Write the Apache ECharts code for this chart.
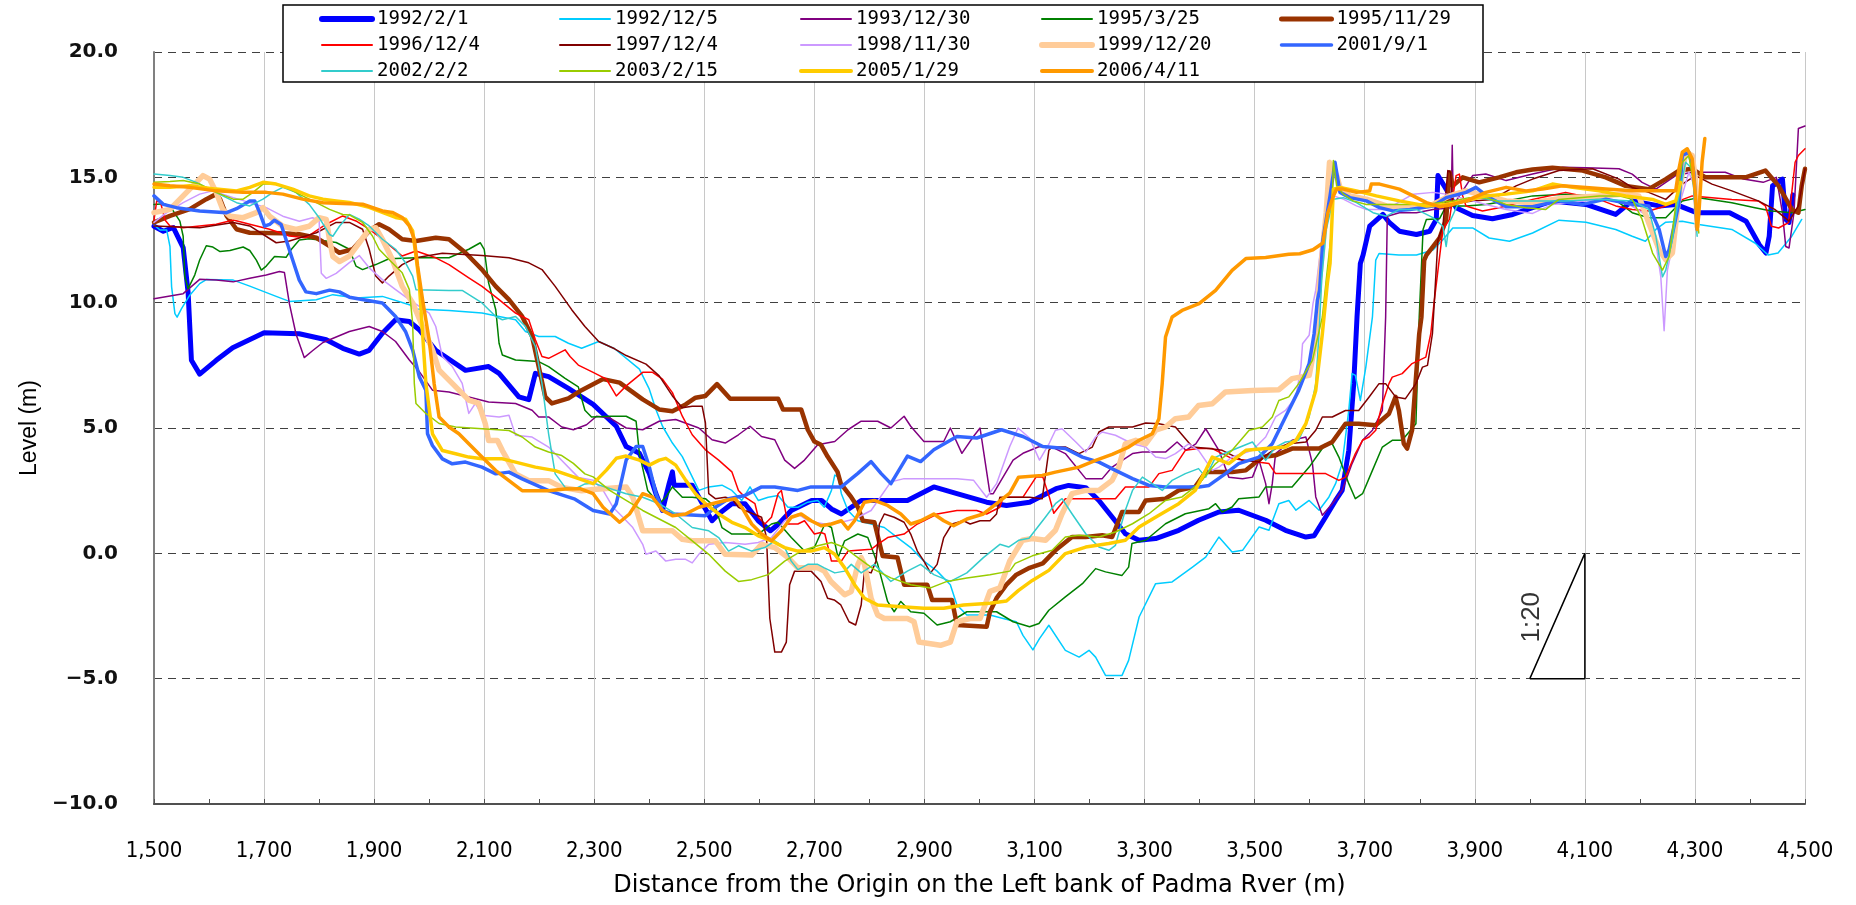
<!DOCTYPE html>
<html>
<head>
<meta charset="utf-8">
<script src="https://cdn.jsdelivr.net/npm/echarts@6/dist/echarts.min.js"></script>
<style>
  html, body { margin: 0; padding: 0; background: #fff; }
  #chart { width: 1856px; height: 905px; }
</style>
</head>
<body>
<div id="chart"></div>
<script>
// Cross-section survey profiles: [distance (m), level (m)]
const s1992_02_01 = [[1500,13.05],[1517,12.85],[1535,13.0],[1553,12.2],[1562,10.4],[1568,7.7],[1583,7.15],[1613,7.7],[1643,8.2],[1700,8.8],[1764,8.76],[1813,8.52],[1843,8.18],[1873,7.95],[1891,8.1],[1915,8.78],[1939,9.32],[1964,9.25],[1982,8.92],[2012,8.1],[2066,7.3],[2108,7.45],[2127,7.18],[2163,6.24],[2181,6.13],[2193,7.18],[2217,7.05],[2253,6.58],[2298,5.94],[2340,5.07],[2358,4.26],[2382,3.99],[2400,3.19],[2412,2.38],[2424,1.71],[2436,2.78],[2442,3.25],[2445,2.72],[2478,2.72],[2490,2.24],[2514,1.3],[2526,1.57],[2550,1.98],[2574,1.98],[2598,1.3],[2620,0.9],[2635,1.17],[2658,1.71],[2695,2.11],[2713,2.11],[2731,1.77],[2749,1.57],[2767,1.84],[2785,2.11],[2869,2.11],[2917,2.65],[2959,2.38],[3013,2.04],[3049,1.91],[3091,2.04],[3139,2.58],[3162,2.71],[3193,2.62],[3217,2.11],[3241,1.45],[3265,0.78],[3290,0.52],[3320,0.59],[3362,0.92],[3398,1.32],[3435,1.65],[3471,1.72],[3520,1.32],[3556,0.92],[3593,0.65],[3608,0.7],[3629,1.45],[3647,2.11],[3659,2.51],[3671,4.11],[3680,6.77],[3686,9.43],[3692,11.56],[3697,11.9],[3709,13.05],[3733,13.52],[3745,13.19],[3763,12.85],[3794,12.72],[3818,12.85],[3830,13.32],[3833,15.07],[3848,14.53],[3866,13.79],[3896,13.48],[3932,13.35],[3969,13.52],[4005,13.79],[4041,14.06],[4102,13.92],[4156,13.52],[4186,14.06],[4235,13.86],[4265,13.92],[4303,13.59],[4363,13.59],[4393,13.25],[4417,12.31],[4429,11.98],[4435,12.65],[4441,14.66],[4459,14.93],[4465,13.32],[4471,13.2],[4478,14.3]];

const s1992_12_05 = [[1500,13.1],[1511,12.9],[1523,12.9],[1529,12.24],[1532,10.63],[1538,9.56],[1542,9.42],[1550,9.76],[1565,10.3],[1583,10.76],[1595,10.92],[1644,10.9],[1674,10.66],[1722,10.25],[1746,10.05],[1795,10.12],[1825,10.32],[1867,10.19],[1915,10.25],[1964,9.92],[1976,9.75],[2036,9.69],[2096,9.59],[2127,9.45],[2157,9.32],[2175,8.85],[2199,8.65],[2229,8.65],[2253,8.38],[2277,8.18],[2308,8.45],[2337,8.16],[2382,7.35],[2400,6.55],[2412,5.74],[2424,5.07],[2442,4.4],[2460,3.86],[2478,3.05],[2490,2.51],[2508,2.65],[2532,2.72],[2550,2.51],[2568,2.11],[2583,2.65],[2598,2.11],[2616,2.24],[2634,2.31],[2652,1.84],[2670,1.84],[2688,2.04],[2706,2.11],[2718,1.84],[2731,2.51],[2737,3.12],[2743,3.05],[2749,2.38],[2761,1.71],[2779,1.3],[2803,1.17],[2827,1.03],[2851,0.63],[2875,0.23],[2899,-0.31],[2923,-0.71],[2947,-1.25],[2959,-2.06],[2977,-2.46],[3019,-2.46],[3043,-2.6],[3067,-2.73],[3079,-3.27],[3097,-3.85],[3109,-3.4],[3126,-2.87],[3156,-3.87],[3181,-4.14],[3199,-3.87],[3211,-4.14],[3229,-4.87],[3259,-4.87],[3271,-4.27],[3290,-2.54],[3320,-1.21],[3350,-1.14],[3387,-0.55],[3411,-0.15],[3435,0.65],[3459,0.05],[3478,0.12],[3508,1.05],[3526,0.92],[3544,1.98],[3562,2.11],[3575,1.72],[3599,2.11],[3617,1.72],[3635,2.25],[3647,2.78],[3659,3.58],[3671,5.7],[3677,7.17],[3683,7.1],[3692,6.1],[3702,7.43],[3714,9.43],[3720,11.7],[3726,11.96],[3762,11.9],[3794,11.9],[3824,12.1],[3842,12.51],[3860,12.98],[3896,12.98],[3926,12.58],[3963,12.45],[4005,12.78],[4053,13.29],[4102,13.21],[4156,12.92],[4186,12.65],[4210,12.45],[4229,12.92],[4247,13.21],[4277,13.25],[4307,13.12],[4367,12.92],[4409,12.38],[4433,11.9],[4451,11.98],[4476,12.65],[4494,13.32]];

const s1993_12_30 = [[1500,10.16],[1553,10.36],[1583,10.93],[1613,10.9],[1644,10.83],[1674,10.97],[1704,11.1],[1728,11.24],[1737,11.2],[1746,9.96],[1758,8.75],[1773,7.81],[1788,8.08],[1807,8.41],[1855,8.85],[1891,9.05],[1915,8.85],[1939,8.45],[1964,7.71],[1982,7.25],[2006,6.51],[2036,6.44],[2072,6.24],[2108,6.04],[2157,5.98],[2187,5.71],[2199,5.44],[2217,5.44],[2241,5.04],[2262,4.93],[2286,5.13],[2304,5.47],[2328,5.4],[2358,5.0],[2388,4.93],[2418,5.27],[2448,5.34],[2490,5.0],[2514,4.53],[2538,4.4],[2562,4.73],[2583,5.07],[2604,4.66],[2628,4.53],[2646,3.72],[2664,3.39],[2682,3.72],[2706,4.33],[2737,4.46],[2761,4.93],[2785,5.27],[2815,5.27],[2839,5.0],[2863,5.47],[2875,5.07],[2899,4.46],[2935,4.46],[2947,5.0],[2968,3.99],[2989,4.66],[3001,5.0],[3007,4.13],[3019,2.38],[3025,2.38],[3043,3.05],[3061,3.72],[3079,3.99],[3109,4.26],[3132,4.24],[3156,3.98],[3193,2.98],[3223,2.98],[3241,3.44],[3278,3.98],[3296,4.04],[3338,4.04],[3359,4.44],[3375,4.11],[3393,4.37],[3411,4.97],[3435,4.11],[3453,3.04],[3478,2.98],[3496,3.04],[3508,3.71],[3520,2.78],[3526,1.98],[3532,2.78],[3538,3.98],[3568,4.51],[3593,4.64],[3605,3.58],[3611,2.25],[3623,1.52],[3641,1.98],[3659,2.51],[3677,3.58],[3696,4.51],[3714,4.91],[3732,5.7],[3738,9.43],[3741,13.45],[3763,13.59],[3794,13.59],[3824,13.72],[3857,13.79],[3859,16.28],[3861,13.9],[3872,14.26],[3896,15.07],[3920,15.13],[3957,14.87],[4005,15.13],[4060,15.4],[4102,15.38],[4162,15.34],[4186,15.13],[4204,14.8],[4229,14.53],[4265,15.07],[4295,15.2],[4355,15.2],[4388,14.93],[4424,14.8],[4448,15.0],[4459,13.59],[4465,12.24],[4471,12.18],[4480,13.6],[4488,16.95],[4500,17.05]];

const s1995_03_25 = [[1500,13.92],[1518,13.95],[1529,13.86],[1547,13.25],[1553,12.65],[1556,11.04],[1562,10.56],[1574,11.1],[1583,11.7],[1595,12.27],[1607,12.22],[1620,12.04],[1638,12.08],[1662,12.22],[1674,12.08],[1686,11.7],[1695,11.3],[1704,11.46],[1719,11.84],[1740,11.81],[1749,12.11],[1764,12.5],[1782,12.55],[1800,12.5],[1831,12.4],[1855,12.13],[1867,11.46],[1879,11.32],[1903,11.52],[1927,11.75],[1976,11.79],[2036,11.79],[2072,12.13],[2093,12.39],[2100,12.13],[2108,10.79],[2121,9.72],[2127,8.38],[2133,7.91],[2157,7.71],[2199,7.65],[2217,7.45],[2247,6.98],[2271,6.64],[2283,5.71],[2295,5.44],[2328,5.47],[2358,5.47],[2376,5.27],[2382,3.99],[2397,2.51],[2418,1.98],[2430,2.24],[2442,2.65],[2460,2.24],[2478,2.24],[2502,2.18],[2520,1.84],[2532,1.03],[2550,0.77],[2598,0.77],[2622,1.17],[2634,1.24],[2658,0.63],[2682,0.09],[2700,0.23],[2719,1.17],[2731,1.03],[2743,-0.17],[2755,0.5],[2779,0.77],[2797,0.63],[2815,-0.44],[2833,-1.92],[2845,-2.33],[2857,-1.92],[2875,-2.33],[2899,-2.39],[2923,-2.86],[2947,-2.73],[2977,-2.33],[3031,-2.33],[3061,-2.73],[3091,-2.93],[3108,-2.8],[3126,-2.27],[3156,-1.74],[3187,-1.21],[3211,-0.61],[3229,-0.74],[3259,-0.88],[3271,-0.55],[3277,0.39],[3302,0.52],[3338,1.18],[3374,1.58],[3417,1.78],[3429,1.98],[3441,1.65],[3459,1.85],[3471,2.18],[3508,2.25],[3520,2.65],[3568,2.65],[3599,3.44],[3629,4.37],[3641,4.37],[3653,3.84],[3671,2.78],[3683,2.18],[3696,2.38],[3714,3.31],[3732,4.24],[3750,4.51],[3768,4.51],[3793,5.17],[3799,9.43],[3806,12.92],[3812,13.32],[3836,13.35],[3848,13.86],[3884,13.86],[3920,13.92],[3957,14.06],[4005,14.26],[4065,14.33],[4126,14.26],[4162,13.99],[4186,13.59],[4216,13.39],[4247,13.39],[4277,14.06],[4307,14.19],[4367,13.99],[4409,13.79],[4439,13.66],[4476,13.59],[4500,13.72]];

const s1995_11_29 = [[1500,13.2],[1529,13.46],[1565,13.73],[1595,14.13],[1613,14.33],[1620,14.13],[1632,13.46],[1650,12.93],[1674,12.79],[1734,12.77],[1764,12.73],[1795,12.59],[1819,12.26],[1837,11.99],[1861,12.13],[1891,12.86],[1909,13.13],[1927,12.93],[1951,12.53],[1976,12.46],[2012,12.59],[2036,12.53],[2066,11.99],[2096,11.32],[2121,10.65],[2145,10.12],[2169,9.45],[2187,8.65],[2199,7.45],[2211,6.24],[2223,5.98],[2253,6.18],[2277,6.51],[2316,6.95],[2346,6.81],[2388,6.14],[2418,5.74],[2442,5.67],[2466,5.94],[2484,6.21],[2502,6.28],[2523,6.75],[2547,6.17],[2634,6.17],[2643,5.74],[2676,5.74],[2688,4.93],[2700,4.46],[2712,4.33],[2724,3.86],[2742,3.25],[2748,2.78],[2767,2.24],[2779,1.84],[2788,1.3],[2809,1.24],[2824,-0.11],[2851,-0.17],[2863,-1.25],[2905,-1.25],[2914,-1.86],[2950,-1.86],[2959,-2.86],[3013,-2.93],[3019,-2.33],[3031,-1.79],[3049,-1.25],[3067,-0.85],[3091,-0.58],[3115,-0.4],[3138,0.12],[3168,0.65],[3193,0.65],[3223,0.72],[3241,0.65],[3259,1.65],[3290,1.65],[3302,2.11],[3338,2.18],[3362,2.51],[3392,2.65],[3411,3.24],[3459,3.24],[3484,3.31],[3514,3.84],[3538,3.91],[3568,4.18],[3617,4.18],[3641,4.44],[3665,5.17],[3689,5.17],[3720,5.11],[3744,5.57],[3756,6.24],[3762,5.7],[3771,4.37],[3777,4.18],[3786,4.91],[3799,8.76],[3803,9.42],[3808,11.69],[3812,11.9],[3824,12.24],[3836,12.58],[3848,13.32],[3854,15.2],[3860,14.66],[3878,15.0],[3908,14.8],[3944,15.0],[3975,15.2],[4005,15.31],[4041,15.38],[4096,15.27],[4138,15.0],[4174,14.66],[4216,14.53],[4247,14.93],[4271,15.27],[4295,15.34],[4319,15.0],[4392,15.0],[4428,15.27],[4452,14.66],[4476,13.72],[4488,13.59],[4494,14.66],[4500,15.34]];

const s1996_12_04 = [[1500,13.3],[1505,14.06],[1512,13.99],[1520,13.3],[1529,13.06],[1553,12.99],[1613,13.13],[1644,13.3],[1674,13.13],[1710,12.93],[1746,12.66],[1776,12.59],[1813,13.13],[1843,13.46],[1867,13.26],[1891,12.93],[1915,12.53],[1951,11.86],[1976,12.06],[2012,11.79],[2036,11.52],[2072,10.99],[2096,10.65],[2127,10.12],[2157,9.58],[2181,9.32],[2193,8.52],[2205,7.85],[2217,7.78],[2247,8.12],[2256,7.85],[2271,7.51],[2298,7.22],[2322,6.95],[2340,6.28],[2358,6.68],[2388,7.22],[2406,7.22],[2424,6.95],[2442,6.41],[2460,5.47],[2478,4.73],[2502,4.13],[2526,3.72],[2550,3.25],[2562,2.51],[2574,2.24],[2592,1.98],[2598,1.44],[2610,1.17],[2622,1.44],[2634,2.38],[2640,2.51],[2646,1.84],[2652,1.17],[2670,1.17],[2682,1.3],[2700,0.77],[2712,0.83],[2719,0.77],[2731,-0.31],[2749,-0.31],[2761,0.09],[2803,0.16],[2815,0.36],[2833,0.63],[2863,0.77],[2875,0.97],[2887,1.17],[2923,1.57],[2959,1.71],[2995,1.71],[3013,1.57],[3037,1.84],[3043,2.24],[3079,2.24],[3103,3.05],[3115,3.05],[3127,2.24],[3135,1.6],[3156,2.18],[3247,2.18],[3265,2.65],[3308,2.65],[3326,3.18],[3350,3.31],[3374,4.11],[3398,4.18],[3423,4.18],[3459,3.78],[3505,3.64],[3526,3.58],[3538,3.18],[3580,3.18],[3629,3.18],[3653,2.91],[3665,3.04],[3683,3.98],[3696,4.51],[3708,4.64],[3720,4.91],[3732,5.97],[3744,6.77],[3750,7.03],[3768,7.17],[3786,7.57],[3811,7.83],[3820,8.76],[3826,10.0],[3842,12.92],[3854,13.32],[3866,15.07],[3872,15.13],[3878,14.26],[3884,13.86],[3914,13.66],[3944,13.79],[4005,14.12],[4065,14.4],[4126,14.12],[4156,13.86],[4186,13.72],[4216,13.66],[4247,13.86],[4295,14.26],[4367,14.12],[4415,14.06],[4428,13.86],[4439,13.05],[4452,12.98],[4470,13.19],[4482,15.6],[4488,15.87],[4500,16.14]];

const s1997_12_04 = [[1500,13.06],[1583,12.99],[1644,13.2],[1674,13.06],[1722,12.39],[1746,12.46],[1795,12.79],[1831,13.2],[1855,13.2],[1879,12.93],[1891,12.13],[1903,11.06],[1915,10.79],[1927,11.06],[1951,11.52],[1976,11.79],[2024,11.97],[2096,11.88],[2145,11.79],[2181,11.59],[2205,11.32],[2229,10.65],[2259,9.72],[2283,9.05],[2308,8.45],[2337,8.16],[2358,7.89],[2394,7.55],[2418,7.08],[2442,6.28],[2460,5.81],[2478,5.87],[2496,5.87],[2502,5.2],[2508,2.38],[2520,2.18],[2538,2.24],[2550,2.18],[2562,1.84],[2574,1.71],[2604,1.44],[2613,0.63],[2619,-2.6],[2628,-3.94],[2640,-3.94],[2649,-3.54],[2655,-1.25],[2664,-0.71],[2694,-0.71],[2712,-1.12],[2724,-1.79],[2736,-1.86],[2748,-2.06],[2763,-2.73],[2775,-2.86],[2785,-2.06],[2791,-0.71],[2803,-0.78],[2812,-0.31],[2818,1.17],[2827,1.57],[2845,1.44],[2863,1.24],[2875,0.77],[2887,0.09],[2899,-0.31],[2911,-0.78],[2923,-0.44],[2935,0.63],[2950,1.17],[2971,1.3],[2983,1.17],[3001,1.3],[3019,1.3],[3031,1.57],[3037,2.24],[3091,2.24],[3114,2.18],[3126,4.11],[3132,4.24],[3156,4.24],[3181,3.98],[3205,4.24],[3217,4.84],[3235,5.04],[3278,5.04],[3302,5.2],[3326,5.17],[3356,5.04],[3387,4.24],[3417,4.18],[3441,4.11],[3478,3.71],[3508,3.64],[3520,3.91],[3538,4.18],[3562,4.37],[3593,4.44],[3611,4.91],[3623,5.44],[3641,5.44],[3665,5.7],[3689,5.7],[3708,6.24],[3726,6.77],[3738,6.77],[3756,6.24],[3774,6.17],[3793,6.77],[3805,7.43],[3814,7.5],[3823,8.76],[3827,10.23],[3833,12.51],[3842,13.05],[3851,15.27],[3856,15.2],[3860,13.86],[3872,13.99],[3896,14.06],[3932,14.12],[3975,14.66],[4005,14.93],[4053,15.27],[4114,15.34],[4162,14.93],[4186,14.6],[4216,14.4],[4247,14.12],[4277,14.73],[4301,15.07],[4331,14.73],[4367,14.46],[4415,14.06],[4445,13.72],[4471,13.25],[4488,13.86],[4500,15.34]];

const s1998_11_30 = [[1500,13.2],[1523,13.59],[1553,13.99],[1583,14.33],[1607,14.46],[1644,14.19],[1674,13.99],[1704,13.79],[1734,13.45],[1764,13.25],[1788,13.39],[1800,13.3],[1804,11.17],[1813,10.97],[1831,11.17],[1855,11.6],[1873,11.88],[1891,11.39],[1915,10.92],[1939,10.52],[1964,10.12],[1982,9.85],[2000,9.58],[2012,9.05],[2024,7.85],[2042,7.45],[2060,6.78],[2072,5.58],[2084,5.98],[2096,5.51],[2127,5.44],[2145,5.51],[2157,4.71],[2187,4.64],[2217,4.24],[2241,3.7],[2271,3.03],[2298,2.92],[2316,2.51],[2334,1.84],[2352,1.44],[2370,1.03],[2388,0.36],[2394,-0.04],[2412,0.09],[2430,-0.31],[2448,-0.24],[2466,-0.24],[2478,-0.38],[2490,-0.04],[2508,0.36],[2538,0.43],[2574,0.36],[2598,0.43],[2622,0.63],[2646,1.3],[2670,1.57],[2688,1.3],[2718,1.17],[2749,1.24],[2773,1.37],[2803,1.71],[2839,2.85],[2863,2.98],[2959,2.98],[2989,2.92],[3013,2.24],[3031,2.78],[3055,4.26],[3070,5.0],[3091,4.6],[3109,3.72],[3127,4.4],[3138,4.91],[3150,4.97],[3175,4.44],[3193,4.04],[3211,4.64],[3223,4.84],[3247,4.71],[3278,4.37],[3302,4.24],[3320,3.84],[3338,3.78],[3356,3.98],[3380,4.37],[3398,4.11],[3423,3.31],[3435,3.44],[3459,3.84],[3496,4.11],[3520,4.64],[3538,5.44],[3556,5.7],[3575,6.24],[3584,7.43],[3587,8.36],[3599,8.7],[3606,9.96],[3611,10.5],[3624,12.92],[3643,14.26],[3661,14.13],[3685,13.86],[3703,13.72],[3739,13.72],[3763,14.02],[3788,14.33],[3824,14.4],[3848,14.33],[3884,14.13],[3920,13.92],[3957,13.72],[4005,13.56],[4041,13.92],[4096,14.06],[4138,14.13],[4180,13.92],[4210,13.52],[4229,12.38],[4238,11.03],[4244,8.88],[4250,11.3],[4259,12.24],[4271,13.86],[4289,15.2],[4300,14.6]];

const s1999_12_20 = [[1500,13.59],[1529,13.72],[1553,14.26],[1577,14.8],[1589,15.07],[1601,14.93],[1613,14.4],[1625,13.72],[1638,13.45],[1662,13.39],[1686,13.59],[1698,13.79],[1710,13.45],[1734,13.05],[1758,12.92],[1782,13.05],[1800,13.39],[1813,13.32],[1819,12.51],[1825,11.84],[1837,11.64],[1855,11.86],[1873,12.39],[1891,12.93],[1903,12.99],[1915,12.53],[1933,11.72],[1951,10.65],[1970,9.99],[1988,9.05],[2006,8.12],[2018,7.31],[2036,6.91],[2060,6.38],[2072,6.11],[2090,5.98],[2102,5.17],[2108,4.5],[2124,4.5],[2133,4.1],[2157,3.17],[2181,2.9],[2217,2.9],[2241,2.63],[2277,2.5],[2298,2.55],[2358,2.65],[2370,2.24],[2388,0.9],[2442,0.9],[2460,0.56],[2478,0.5],[2520,0.5],[2538,-0.04],[2586,-0.07],[2604,0.36],[2628,0.23],[2652,-0.17],[2670,-0.58],[2706,-0.58],[2718,-0.71],[2730,-1.12],[2755,-1.65],[2767,-1.52],[2779,-0.44],[2785,-0.17],[2791,-0.44],[2803,-1.79],[2815,-2.46],[2827,-2.6],[2869,-2.6],[2881,-2.73],[2890,-3.54],[2929,-3.67],[2947,-3.54],[2959,-2.73],[2983,-2.6],[3001,-2.6],[3019,-1.52],[3037,-1.38],[3055,-0.3],[3078,0.52],[3096,0.59],[3120,0.52],[3138,0.92],[3150,1.58],[3168,2.38],[3193,2.51],[3217,2.51],[3241,2.91],[3253,3.44],[3265,4.37],[3284,4.51],[3302,4.37],[3320,4.91],[3338,5.04],[3356,5.37],[3380,5.44],[3398,5.9],[3423,5.97],[3447,6.44],[3496,6.5],[3544,6.53],[3568,6.97],[3599,7.1],[3608,8.1],[3614,9.43],[3618,10.9],[3630,13.59],[3636,15.6],[3649,15.07],[3655,14.6],[3673,14.26],[3703,14.13],[3739,13.86],[3782,13.79],[3824,13.92],[3854,14.26],[3884,14.46],[3920,14.26],[3957,14.06],[4005,13.99],[4065,14.19],[4126,14.26],[4174,14.33],[4198,14.26],[4216,13.19],[4235,12.11],[4247,11.71],[4259,11.98],[4271,14.26],[4283,16.0],[4295,15.87],[4301,14.93],[4304,13.05]];

const s2001_09_01 = [[1500,14.26],[1517,13.92],[1541,13.79],[1583,13.66],[1632,13.59],[1650,13.75],[1674,14.06],[1683,14.06],[1692,13.59],[1701,13.05],[1710,13.12],[1719,13.29],[1731,13.12],[1740,12.51],[1752,11.7],[1764,10.9],[1776,10.43],[1795,10.36],[1819,10.5],[1837,10.43],[1855,10.22],[1915,9.99],[1939,9.45],[1957,8.85],[1970,8.11],[1982,7.05],[1994,6.51],[1997,4.77],[2006,4.3],[2024,3.77],[2042,3.57],[2066,3.64],[2096,3.44],[2121,3.17],[2145,3.24],[2169,2.97],[2217,2.5],[2265,2.16],[2298,1.71],[2328,1.57],[2340,1.98],[2358,3.72],[2376,4.26],[2388,4.26],[2400,3.45],[2412,2.38],[2424,1.71],[2442,1.57],[2502,1.5],[2520,1.84],[2544,2.18],[2574,2.31],[2604,2.65],[2628,2.65],[2670,2.51],[2694,2.65],[2749,2.65],[2779,3.19],[2803,3.66],[2821,3.19],[2839,2.78],[2869,3.88],[2893,3.66],[2917,4.13],[2959,4.66],[2995,4.6],[3040,4.93],[3079,4.66],[3115,4.26],[3156,4.18],[3187,3.84],[3217,3.64],[3247,3.31],[3278,2.98],[3308,2.71],[3338,2.65],[3399,2.65],[3417,2.71],[3447,3.18],[3471,3.58],[3508,3.84],[3532,4.37],[3556,5.44],[3580,6.5],[3599,7.57],[3608,8.76],[3614,10.09],[3618,10.5],[3624,12.51],[3637,14.26],[3646,15.6],[3655,14.4],[3673,14.19],[3703,14.06],[3727,13.79],[3751,13.66],[3782,13.72],[3824,13.86],[3848,14.19],[3884,14.4],[3902,14.6],[3926,14.19],[3957,13.83],[4005,13.83],[4053,14.06],[4096,13.92],[4138,14.13],[4186,13.92],[4216,13.86],[4235,12.92],[4247,11.84],[4253,12.11],[4271,13.99],[4277,15.87],[4289,16.0],[4298,15.2],[4304,12.92]];

const s2002_02_02 = [[1500,15.13],[1529,15.07],[1553,15.0],[1577,14.8],[1601,14.53],[1625,14.26],[1650,13.99],[1674,13.86],[1698,14.13],[1716,14.4],[1734,14.6],[1758,14.4],[1782,13.92],[1800,13.39],[1819,12.72],[1825,12.65],[1837,13.05],[1855,13.52],[1873,13.33],[1891,13.06],[1915,12.53],[1939,12.13],[1957,11.59],[1970,11.06],[1976,10.52],[2036,10.49],[2060,10.49],[2096,9.99],[2121,9.45],[2133,9.32],[2157,9.45],[2175,9.05],[2193,8.25],[2205,6.78],[2217,4.77],[2229,3.17],[2247,2.63],[2265,2.57],[2283,2.77],[2298,2.8],[2358,2.38],[2388,2.24],[2418,1.98],[2448,1.57],[2478,1.03],[2508,0.9],[2526,0.63],[2544,0.09],[2562,0.3],[2586,0.09],[2610,0.23],[2628,0.5],[2646,0.23],[2658,-0.31],[2670,-0.65],[2688,-0.44],[2706,-0.44],[2718,-0.58],[2737,-0.78],[2755,-0.71],[2767,-0.44],[2785,-0.78],[2809,-0.44],[2839,-1.12],[2869,-0.71],[2893,-0.44],[2917,-0.85],[2947,-1.12],[2977,-0.78],[3007,-0.17],[3037,0.36],[3053,0.25],[3071,0.52],[3090,0.6],[3120,1.45],[3138,1.98],[3150,2.18],[3168,1.58],[3193,0.78],[3217,0.25],[3235,0.12],[3247,0.32],[3265,1.72],[3278,2.51],[3296,3.04],[3314,2.78],[3332,2.51],[3350,2.91],[3374,3.18],[3398,3.38],[3411,3.04],[3429,3.84],[3459,4.11],[3496,4.44],[3520,3.71],[3538,4.24],[3556,4.44],[3580,4.51],[3599,5.44],[3611,6.77],[3617,8.76],[3622,11.0],[3630,12.92],[3643,14.13],[3661,14.19],[3685,13.99],[3715,13.59],[3739,13.45],[3763,13.72],[3794,13.72],[3824,13.39],[3842,13.05],[3848,12.24],[3854,13.2],[3872,14.06],[3908,14.19],[3944,14.06],[4005,14.06],[4065,14.06],[4126,14.13],[4186,14.06],[4216,13.72],[4229,12.65],[4241,11.03],[4247,11.3],[4259,12.51],[4271,14.26],[4283,15.6],[4295,15.34],[4301,13.59],[4304,12.65]];

const s2003_02_15 = [[1500,14.8],[1529,14.83],[1553,14.87],[1583,14.73],[1613,14.4],[1644,14.13],[1662,14.13],[1680,14.4],[1698,14.73],[1722,14.73],[1746,14.53],[1770,14.26],[1795,13.99],[1819,13.72],[1843,13.52],[1855,13.5],[1879,13.2],[1897,12.66],[1909,12.13],[1927,11.72],[1951,11.19],[1964,10.52],[1970,9.18],[1973,6.78],[1976,5.98],[1994,5.58],[2018,5.18],[2048,5.04],[2096,4.97],[2145,4.9],[2169,4.64],[2193,4.24],[2217,4.04],[2241,3.9],[2262,3.59],[2283,3.17],[2298,3.05],[2328,2.51],[2358,2.11],[2388,1.71],[2418,1.37],[2448,1.03],[2478,0.5],[2508,-0.04],[2538,-0.71],[2562,-1.12],[2586,-1.05],[2616,-0.85],[2646,-0.31],[2676,0.09],[2706,0.3],[2731,0.43],[2755,0.23],[2779,-0.17],[2809,-0.65],[2839,-0.98],[2875,-1.25],[2911,-1.38],[2941,-1.12],[2977,-0.98],[3019,-0.85],[3055,-0.71],[3065,-0.4],[3096,-0.1],[3132,0.12],[3156,0.65],[3181,0.72],[3217,0.65],[3247,0.85],[3278,1.18],[3308,1.58],[3338,2.11],[3368,2.25],[3399,2.78],[3429,3.58],[3459,4.11],[3490,4.91],[3514,5.04],[3532,5.44],[3544,6.1],[3562,6.24],[3580,6.77],[3605,7.7],[3623,9.43],[3630,10.9],[3640,12.92],[3643,15.67],[3649,14.66],[3661,14.33],[3679,14.06],[3703,13.92],[3782,13.92],[3824,13.96],[3860,14.06],[3890,14.19],[3920,14.19],[3957,13.92],[3993,13.79],[4029,13.72],[4053,14.12],[4090,14.19],[4126,14.26],[4162,14.26],[4186,14.12],[4204,13.32],[4223,11.98],[4241,11.3],[4253,11.84],[4265,13.86],[4277,15.6],[4289,15.87],[4301,14.26],[4307,12.78]];

const s2005_01_29 = [[1500,14.6],[1529,14.6],[1565,14.66],[1613,14.53],[1650,14.46],[1674,14.6],[1698,14.8],[1722,14.73],[1752,14.53],[1782,14.26],[1807,14.13],[1831,14.06],[1855,14.0],[1891,13.8],[1915,13.6],[1939,13.4],[1957,13.33],[1970,12.86],[1976,11.86],[1982,10.79],[1988,8.78],[1994,6.78],[2006,4.77],[2024,4.1],[2048,3.97],[2072,3.84],[2096,3.77],[2133,3.77],[2157,3.64],[2193,3.44],[2229,3.3],[2265,3.03],[2298,2.78],[2322,3.32],[2340,3.79],[2358,3.88],[2382,3.72],[2400,3.52],[2418,3.72],[2430,3.79],[2448,3.52],[2466,2.92],[2484,2.38],[2502,1.98],[2526,1.57],[2550,1.24],[2574,1.03],[2598,0.7],[2622,0.5],[2646,0.23],[2670,0.09],[2694,0.09],[2718,0.23],[2737,-0.04],[2755,-0.58],[2773,-1.25],[2791,-1.79],[2815,-2.06],[2851,-2.12],[2899,-2.19],[2935,-2.19],[2971,-2.06],[3019,-1.99],[3049,-1.9],[3071,-1.48],[3096,-1.08],[3126,-0.68],[3156,-0.01],[3193,0.25],[3235,0.39],[3265,0.52],[3290,1.05],[3326,1.52],[3362,1.98],[3392,2.51],[3411,3.31],[3423,3.84],[3453,3.58],[3484,4.11],[3520,4.18],[3556,4.24],[3575,4.51],[3593,5.17],[3611,6.5],[3623,8.76],[3632,10.76],[3637,11.57],[3643,14.53],[3655,14.6],[3685,14.46],[3721,14.26],[3763,14.06],[3812,13.86],[3848,13.92],[3884,14.06],[3920,14.26],[3957,14.33],[4005,14.46],[4041,14.73],[4078,14.6],[4126,14.46],[4174,14.26],[4223,14.12],[4247,13.92],[4265,14.06],[4274,14.8]];

const s2006_04_11 = [[1500,14.73],[1529,14.66],[1565,14.6],[1613,14.46],[1662,14.4],[1704,14.4],[1734,14.33],[1770,14.13],[1807,13.99],[1855,13.95],[1879,13.93],[1915,13.66],[1933,13.6],[1951,13.4],[1964,13.06],[1973,12.53],[1979,11.46],[1988,10.12],[2000,8.52],[2009,6.78],[2018,5.44],[2036,5.04],[2054,4.77],[2072,4.37],[2096,3.84],[2121,3.3],[2145,2.9],[2169,2.5],[2217,2.5],[2247,2.57],[2274,2.58],[2298,2.38],[2316,1.84],[2346,1.24],[2364,1.57],[2388,2.38],[2406,2.24],[2424,1.71],[2442,1.5],[2466,1.57],[2490,1.84],[2514,1.98],[2538,2.11],[2556,2.18],[2568,1.84],[2586,1.17],[2604,0.77],[2622,0.5],[2640,0.9],[2658,1.44],[2676,1.57],[2694,1.3],[2712,1.1],[2731,1.17],[2749,1.3],[2761,0.97],[2773,1.3],[2791,2.04],[2809,2.11],[2833,1.91],[2857,1.57],[2875,1.17],[2893,1.3],[2917,1.57],[2935,1.3],[2953,1.1],[2977,1.37],[3007,1.57],[3031,1.98],[3055,2.4],[3071,3.04],[3114,3.11],[3138,3.24],[3181,3.44],[3211,3.71],[3241,3.95],[3271,4.24],[3290,4.51],[3314,4.77],[3326,5.37],[3332,6.77],[3338,8.63],[3350,9.43],[3368,9.69],[3399,9.96],[3429,10.49],[3459,11.29],[3484,11.76],[3520,11.8],[3562,11.93],[3582,11.95],[3606,12.11],[3624,12.38],[3633,13.59],[3643,14.26],[3649,14.53],[3661,14.53],[3685,14.4],[3709,14.46],[3712,14.73],[3727,14.73],[3763,14.53],[3788,14.26],[3812,13.99],[3836,13.83],[3860,13.92],[3884,14.06],[3920,14.4],[3957,14.6],[3993,14.46],[4023,14.53],[4059,14.66],[4096,14.6],[4138,14.53],[4186,14.46],[4265,14.46],[4271,15.34],[4277,16.0],[4286,16.14],[4295,15.74],[4301,14.26],[4304,12.92],[4307,13.5],[4313,15.6],[4318,16.55]];

// Slope key: a 1:20 triangle (100 m run, 5 m rise)
const slopeTriangle = [[4000,-5],[4100,-5],[4100,0],[4000,-5]];
const slopeLabelAt = [[4003,-2.55]];
const slopeLabel = '1:20';

const surveyNames = ['1992/2/1','1992/12/5','1993/12/30','1995/3/25','1995/11/29',
                     '1996/12/4','1997/12/4','1998/11/30','1999/12/20','2001/9/1',
                     '2002/2/2','2003/2/15','2005/1/29','2006/4/11'];
const surveyData = [s1992_02_01, s1992_12_05, s1993_12_30, s1995_03_25, s1995_11_29,
                    s1996_12_04, s1997_12_04, s1998_11_30, s1999_12_20, s2001_09_01,
                    s2002_02_02, s2003_02_15, s2005_01_29, s2006_04_11];
const surveyColors = ['#0000FF','#00CCFF','#800080','#008000','#993300',
                      '#FF0000','#800000','#CC99FF','#FFCC99','#3366FF',
                      '#33CCCC','#99CC00','#FFCC00','#FF9900'];
const surveyWidths = [5, 1.5, 1.5, 1.5, 4.5,
                      1.5, 1.5, 1.5, 5.5, 3.5,
                      1.5, 1.5, 3.5, 3.5];
const legendWidths = [6, 2, 2, 2, 5,
                      2, 2, 2, 6, 3.5,
                      2, 2, 4, 4];

const xTitle = 'Distance from the Origin on the Left bank of Padma Rver (m)';
const yTitle = 'Level (m)';

const chart = echarts.init(document.getElementById('chart'));

const lineSeries = surveyNames.map((name, i) => ({
  name,
  type: 'line',
  data: surveyData[i],
  symbol: 'none',
  showSymbol: false,
  silent: true,
  lineStyle: { color: surveyColors[i], width: surveyWidths[i], cap: 'round', join: 'round' },
  itemStyle: { color: surveyColors[i] },
  z: 2
}));

lineSeries.push({
  name: 'slope',
  type: 'line',
  data: slopeTriangle,
  symbol: 'none',
  silent: true,
  lineStyle: { color: '#000', width: 1.5 },
  z: 3
});
lineSeries.push({
  name: 'slopeText',
  type: 'scatter',
  data: slopeLabelAt,
  symbolSize: 1,
  itemStyle: { color: 'rgba(0,0,0,0)' },
  silent: true,
  label: {
    show: true,
    position: 'inside',
    formatter: slopeLabel,
    rotate: 90,
    fontFamily: 'Liberation Sans, Arial, sans-serif',
    fontSize: 26,
    color: '#000'
  },
  z: 3
});

// Legend laid out as 5 fixed-width columns, 3 rows (row-major order)
const legendCols = 5;
const legendLeft = 319;
const legendColStep = 240;
const legends = [];
for (let c = 0; c < legendCols; c++) {
  const items = [];
  for (let i = c; i < surveyNames.length; i += legendCols) {
    items.push({
      name: surveyNames[i],
      lineStyle: { width: legendWidths[i], cap: 'round', color: surveyColors[i] },
      itemStyle: { opacity: 0 }
    });
  }
  legends.push({
    data: items,
    left: legendLeft + c * legendColStep,
    top: 7,
    orient: 'vertical',
    padding: 0,
    itemGap: 2,
    itemWidth: 50,
    itemHeight: 14,
    z: 5,
    selectedMode: false,
    textStyle: {
      fontFamily: 'DejaVu Sans Mono, monospace',
      fontSize: 19,
      color: '#000',
      lineHeight: 24
    }
  });
}

const fmtNeg = s => s.replace('-', '\u2212');

chart.setOption({
  animation: false,
  backgroundColor: '#fff',
  grid: { left: 154, right: 51, top: 52, bottom: 101, containLabel: false },
  graphic: [{
    type: 'rect',
    shape: { x: 283, y: 5, width: 1200, height: 77 },
    style: { fill: '#fff', stroke: '#000', lineWidth: 1.5 },
    z: 3
  }],
  legend: legends,
  xAxis: {
    type: 'value',
    min: 1500,
    max: 4500,
    interval: 200,
    name: xTitle,
    nameLocation: 'middle',
    nameGap: 70,
    nameTextStyle: {
      fontFamily: 'DejaVu Sans, sans-serif',
      fontSize: 24,
      color: '#000'
    },
    axisLine: { show: true, onZero: false, lineStyle: { color: '#505050', width: 2 } },
    axisTick: { show: true, inside: true, length: 5, lineStyle: { color: '#505050' } },
    minorTick: { show: true, splitNumber: 2, length: 5, lineStyle: { color: '#505050' } },
    axisLabel: {
      margin: 36,
      fontFamily: 'Liberation Sans Narrow, DejaVu Sans Condensed, sans-serif',
      fontSize: 22,
      color: '#000',
      formatter: v => v.toLocaleString('en-US')
    },
    splitLine: { show: true, lineStyle: { color: '#c8c8c8', width: 1 } }
  },
  yAxis: {
    type: 'value',
    min: -10,
    max: 20,
    interval: 5,
    name: yTitle,
    nameLocation: 'middle',
    nameGap: 112,
    nameRotate: 90,
    nameTextStyle: {
      fontFamily: 'Liberation Sans, Arial, sans-serif',
      fontSize: 23,
      color: '#000'
    },
    axisLine: { show: true, lineStyle: { color: '#808080', width: 2 } },
    axisTick: { show: false },
    axisLabel: {
      margin: 36,
      fontFamily: 'DejaVu Sans, sans-serif',
      fontWeight: 'bold',
      fontSize: 20,
      color: '#111',
      formatter: v => fmtNeg(v.toFixed(1))
    },
    splitLine: { show: true, lineStyle: { color: '#404040', width: 1, type: [8, 6] } }
  },
  series: lineSeries
});
</script>
</body>
</html>
